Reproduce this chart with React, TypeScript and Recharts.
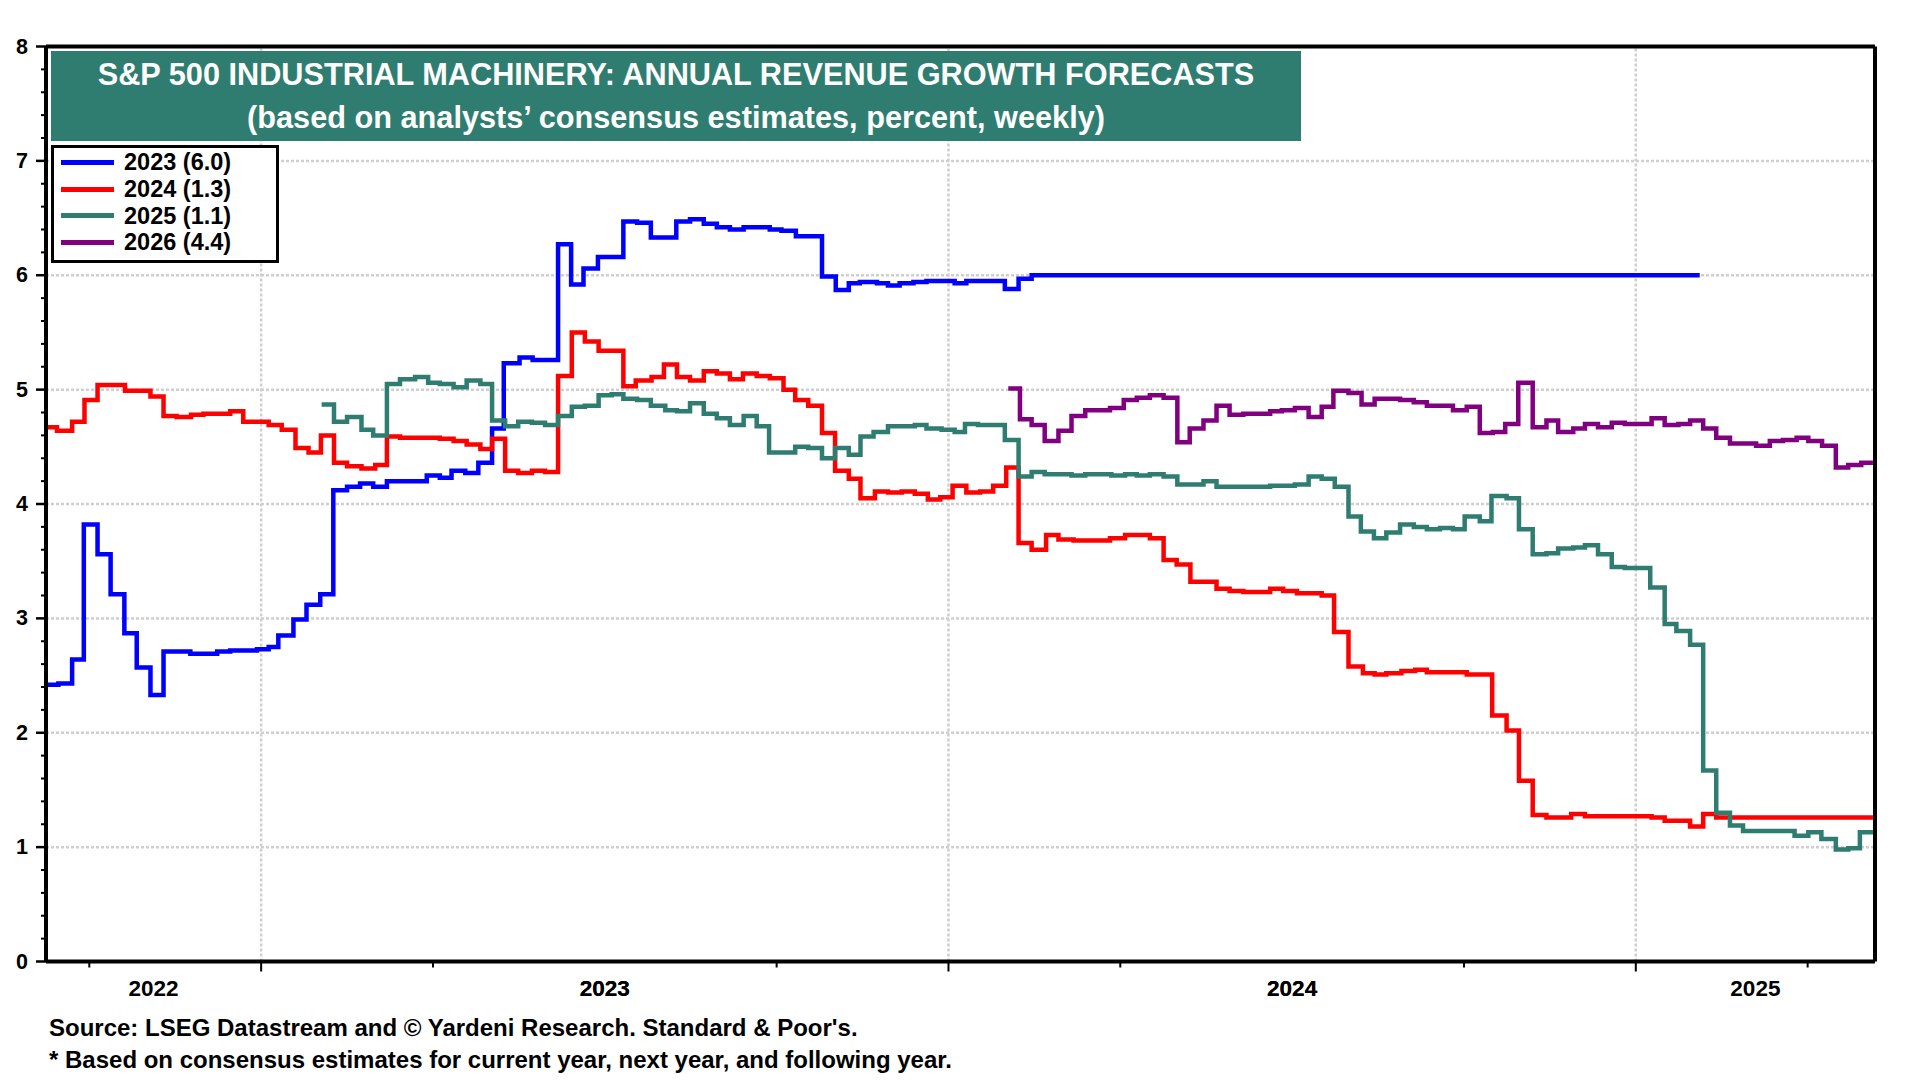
import {
  LineChart,
  Line,
  XAxis,
  YAxis,
  Legend,
  ReferenceLine,
} from "recharts";

// weekly consensus revenue growth forecasts, points where the value changes
// [decimal year, percent]
const s2023: [number, number][] = [
  [2022.687, 2.42], [2022.705, 2.43], [2022.725, 2.64], [2022.742, 3.82],
  [2022.762, 3.56], [2022.781, 3.21], [2022.801, 2.87], [2022.819, 2.57],
  [2022.839, 2.33], [2022.858, 2.71], [2022.897, 2.69], [2022.936, 2.71],
  [2022.955, 2.72], [2022.994, 2.73], [2023.011, 2.75], [2023.025, 2.85],
  [2023.047, 2.99], [2023.066, 3.12], [2023.086, 3.21], [2023.105, 4.12],
  [2023.125, 4.15], [2023.144, 4.18], [2023.163, 4.15], [2023.183, 4.2],
  [2023.241, 4.25], [2023.26, 4.23], [2023.277, 4.29], [2023.297, 4.27],
  [2023.316, 4.36], [2023.336, 4.66], [2023.353, 5.23], [2023.376, 5.28],
  [2023.395, 5.26], [2023.432, 6.27], [2023.451, 5.92], [2023.469, 6.06],
  [2023.49, 6.16], [2023.527, 6.47], [2023.547, 6.46], [2023.567, 6.33],
  [2023.604, 6.47], [2023.624, 6.49], [2023.644, 6.45], [2023.663, 6.42],
  [2023.682, 6.4], [2023.702, 6.42], [2023.74, 6.4], [2023.757, 6.39],
  [2023.778, 6.34], [2023.816, 5.99], [2023.836, 5.87], [2023.855, 5.93],
  [2023.871, 5.94], [2023.896, 5.93], [2023.912, 5.91], [2023.929, 5.93],
  [2023.949, 5.94], [2023.968, 5.95], [2024.009, 5.93], [2024.026, 5.95],
  [2024.082, 5.88], [2024.102, 5.97], [2024.121, 6.0], [2025.093, 6.0],
];

const s2024: [number, number][] = [
  [2022.687, 4.67], [2022.703, 4.64], [2022.725, 4.72], [2022.743, 4.91],
  [2022.762, 5.04], [2022.802, 4.99], [2022.839, 4.94], [2022.858, 4.77],
  [2022.877, 4.76], [2022.898, 4.78], [2022.916, 4.79], [2022.955, 4.81],
  [2022.974, 4.72], [2023.011, 4.69], [2023.03, 4.65], [2023.05, 4.49],
  [2023.069, 4.45], [2023.087, 4.6], [2023.106, 4.36], [2023.125, 4.33],
  [2023.146, 4.31], [2023.166, 4.34], [2023.183, 4.59], [2023.202, 4.58],
  [2023.26, 4.57], [2023.28, 4.55], [2023.299, 4.52], [2023.319, 4.48],
  [2023.336, 4.57], [2023.355, 4.29], [2023.374, 4.27], [2023.394, 4.29],
  [2023.413, 4.28], [2023.432, 5.12], [2023.452, 5.5], [2023.471, 5.42],
  [2023.491, 5.34], [2023.527, 5.03], [2023.545, 5.08], [2023.568, 5.11],
  [2023.586, 5.22], [2023.605, 5.11], [2023.624, 5.08], [2023.644, 5.16],
  [2023.663, 5.14], [2023.682, 5.09], [2023.701, 5.14], [2023.721, 5.12],
  [2023.74, 5.1], [2023.76, 5.0], [2023.777, 4.91], [2023.796, 4.86],
  [2023.816, 4.62], [2023.835, 4.29], [2023.855, 4.22], [2023.872, 4.05],
  [2023.893, 4.11], [2023.912, 4.1], [2023.932, 4.11], [2023.951, 4.09],
  [2023.97, 4.04], [2023.988, 4.06], [2024.006, 4.16], [2024.026, 4.1],
  [2024.046, 4.11], [2024.065, 4.16], [2024.084, 4.32], [2024.102, 3.66],
  [2024.121, 3.6], [2024.142, 3.73], [2024.16, 3.69], [2024.182, 3.68],
  [2024.235, 3.7], [2024.257, 3.73], [2024.293, 3.7], [2024.313, 3.51],
  [2024.332, 3.47], [2024.352, 3.32], [2024.39, 3.26], [2024.409, 3.24],
  [2024.429, 3.23], [2024.468, 3.26], [2024.487, 3.24], [2024.507, 3.22],
  [2024.543, 3.2], [2024.561, 2.88], [2024.582, 2.58], [2024.603, 2.52],
  [2024.62, 2.51], [2024.637, 2.52], [2024.659, 2.54], [2024.679, 2.55],
  [2024.696, 2.53], [2024.754, 2.51], [2024.791, 2.15], [2024.812, 2.02],
  [2024.83, 1.58], [2024.85, 1.28], [2024.87, 1.26], [2024.906, 1.29],
  [2024.926, 1.27], [2025.023, 1.26], [2025.042, 1.23], [2025.079, 1.18],
  [2025.098, 1.29], [2025.117, 1.26], [2025.345, 1.26],
];

const s2025: [number, number][] = [
  [2023.088, 4.87], [2023.106, 4.72], [2023.125, 4.76], [2023.146, 4.65],
  [2023.163, 4.6], [2023.183, 5.05], [2023.202, 5.09], [2023.224, 5.11],
  [2023.243, 5.06], [2023.26, 5.05], [2023.28, 5.02], [2023.299, 5.08],
  [2023.319, 5.05], [2023.336, 4.73], [2023.355, 4.68], [2023.374, 4.72],
  [2023.394, 4.71], [2023.413, 4.69], [2023.432, 4.77], [2023.452, 4.85],
  [2023.471, 4.86], [2023.491, 4.95], [2023.51, 4.96], [2023.527, 4.92],
  [2023.547, 4.91], [2023.567, 4.86], [2023.588, 4.82], [2023.605, 4.81],
  [2023.624, 4.88], [2023.644, 4.79], [2023.663, 4.75], [2023.682, 4.69],
  [2023.702, 4.77], [2023.721, 4.68], [2023.739, 4.45], [2023.777, 4.5],
  [2023.796, 4.49], [2023.816, 4.4], [2023.835, 4.49], [2023.855, 4.43],
  [2023.872, 4.59], [2023.891, 4.63], [2023.912, 4.68], [2023.951, 4.69],
  [2023.968, 4.66], [2023.99, 4.65], [2024.009, 4.63], [2024.024, 4.7],
  [2024.043, 4.69], [2024.082, 4.56], [2024.102, 4.24], [2024.121, 4.28],
  [2024.14, 4.26], [2024.179, 4.25], [2024.199, 4.26], [2024.237, 4.25],
  [2024.257, 4.26], [2024.274, 4.25], [2024.293, 4.26], [2024.313, 4.24],
  [2024.333, 4.17], [2024.371, 4.2], [2024.39, 4.15], [2024.468, 4.16],
  [2024.504, 4.17], [2024.524, 4.24], [2024.543, 4.22], [2024.562, 4.15],
  [2024.582, 3.89], [2024.6, 3.76], [2024.619, 3.7], [2024.637, 3.75],
  [2024.657, 3.82], [2024.677, 3.8], [2024.696, 3.78], [2024.715, 3.79],
  [2024.734, 3.78], [2024.751, 3.89], [2024.773, 3.85], [2024.79, 4.07],
  [2024.812, 4.05], [2024.83, 3.78], [2024.85, 3.56], [2024.87, 3.57],
  [2024.887, 3.61], [2024.909, 3.62], [2024.926, 3.64], [2024.945, 3.56],
  [2024.965, 3.45], [2024.984, 3.44], [2025.021, 3.27], [2025.042, 2.95],
  [2025.059, 2.89], [2025.079, 2.77], [2025.098, 1.67], [2025.117, 1.3],
  [2025.137, 1.19], [2025.156, 1.14], [2025.231, 1.1], [2025.251, 1.13],
  [2025.27, 1.07], [2025.291, 0.98], [2025.309, 0.99], [2025.326, 1.13],
  [2025.345, 1.13],
];

const s2026: [number, number][] = [
  [2024.087, 5.01], [2024.104, 4.74], [2024.121, 4.69], [2024.14, 4.55],
  [2024.16, 4.64], [2024.179, 4.77], [2024.199, 4.82], [2024.235, 4.84],
  [2024.255, 4.91], [2024.274, 4.93], [2024.293, 4.95], [2024.313, 4.93],
  [2024.333, 4.54], [2024.351, 4.66], [2024.371, 4.73], [2024.39, 4.86],
  [2024.409, 4.78], [2024.429, 4.79], [2024.468, 4.81], [2024.485, 4.82],
  [2024.504, 4.84], [2024.524, 4.76], [2024.543, 4.85], [2024.56, 4.99],
  [2024.582, 4.97], [2024.601, 4.87], [2024.62, 4.92], [2024.657, 4.91],
  [2024.677, 4.89], [2024.696, 4.86], [2024.734, 4.82], [2024.754, 4.85],
  [2024.773, 4.62], [2024.792, 4.63], [2024.81, 4.7], [2024.829, 5.06],
  [2024.85, 4.67], [2024.87, 4.73], [2024.887, 4.63], [2024.909, 4.66],
  [2024.926, 4.7], [2024.945, 4.67], [2024.965, 4.71], [2024.984, 4.7],
  [2025.023, 4.75], [2025.042, 4.69], [2025.062, 4.7], [2025.079, 4.73],
  [2025.098, 4.66], [2025.117, 4.58], [2025.137, 4.53], [2025.175, 4.51],
  [2025.195, 4.55], [2025.214, 4.56], [2025.234, 4.58], [2025.251, 4.55],
  [2025.271, 4.51], [2025.291, 4.32], [2025.309, 4.34], [2025.328, 4.36],
  [2025.345, 4.36],
];

const seriesNames = ["2023 (6.0)", "2024 (1.3)", "2025 (1.1)", "2026 (4.4)"];
const seriesColors = ["#0000FF", "#FF0000", "#2E7D70", "#800080"];

const xDomain: [number, number] = [2022.687, 2025.348];
const yearStarts = [2023, 2024, 2025];
const quarterTicks = [
  2022.75, 2023, 2023.25, 2023.5, 2023.75, 2024, 2024.25, 2024.5, 2024.75,
  2025, 2025.25,
];
const yearLabels = ["2022", "2023", "2024", "2025"];
const yGrid = [1, 2, 3, 4, 5, 6, 7];
const yTicks = Array.from({ length: 41 }, (_, i) => i / 5);

const FONT = '"Liberation Sans", Arial, Helvetica, sans-serif';

// year labels sit in the middle of the visible part of each year
const labelTicks = yearLabels.map((yr) => {
  const start = Math.max(Number(yr), xDomain[0]);
  const end = Math.min(Number(yr) + 1, xDomain[1]);
  return (start + end) / 2;
});

const toPoints = (s: [number, number][]) => s.map(([t, v]) => ({ t, v }));
const allSeries = [s2023, s2024, s2025, s2026];

const YTick = (props: any) => {
  const { x, y, payload, side } = props;
  const v = payload.value;
  const major = Math.abs(v - Math.round(v)) < 1e-6;
  const dir = side === "left" ? -1 : 1;
  return (
    <g>
      <line
        x1={x}
        y1={y}
        x2={x + dir * (major ? 10 : 5)}
        y2={y}
        stroke="#000"
        strokeWidth={major ? 2.5 : 2}
      />
      {major && (
        <text
          x={x + dir * 18}
          y={y}
          textAnchor={side === "left" ? "end" : "start"}
          dominantBaseline="central"
          fontFamily={FONT}
          fontWeight="bold"
          fontSize={21.5}
          fill="#000"
        >
          {Math.round(v)}
        </text>
      )}
    </g>
  );
};

const XTick = (props: any) => {
  const { x, y, payload } = props;
  const v = payload.value;
  const li = labelTicks.findIndex((t) => Math.abs(t - v) < 1e-6);
  if (li >= 0) {
    return (
      <text
        x={x}
        y={y + 34}
        textAnchor="middle"
        fontFamily={FONT}
        fontWeight="bold"
        fontSize={22.5}
        fill="#000"
      >
        {yearLabels[li]}
      </text>
    );
  }
  const isYear = Math.abs(v - Math.round(v)) < 1e-6;
  return (
    <line
      x1={x}
      y1={y}
      x2={x}
      y2={y + (isYear ? 10 : 6)}
      stroke="#000"
      strokeWidth={2}
    />
  );
};

const LegendBox = (props: any) => {
  const { payload } = props;
  return (
    <div
      style={{
        border: "3px solid #000",
        background: "#fff",
        boxSizing: "border-box",
        width: 228,
        height: 118,
        padding: "1px 0 0 7px",
        fontFamily: FONT,
        fontWeight: "bold",
        fontSize: 23.5,
      }}
    >
      {(payload || []).map((entry: any, index: number) => (
        <div
          key={`item-${index}`}
          style={{ display: "flex", alignItems: "center", height: 26.8 }}
        >
          <span
            style={{
              width: 53,
              height: 5,
              backgroundColor: entry.color,
              marginRight: 10,
            }}
          />
          <span>{entry.value}</span>
        </div>
      ))}
    </div>
  );
};

export default function App() {
  return (
    <div
      style={{
        position: "absolute",
        left: 0,
        top: 0,
        width: 1920,
        height: 1080,
        background: "#fff",
        fontFamily: FONT,
      }}
    >
      <LineChart
        width={1920}
        height={1080}
        margin={{ top: 46.5, right: 0, bottom: 78.5, left: 0 }}
      >
        <XAxis
          dataKey="t"
          type="number"
          domain={xDomain}
          allowDataOverflow
          ticks={[...quarterTicks, ...labelTicks]}
          interval={0}
          tickSize={0}
          tickMargin={0}
          height={40}
          tick={<XTick />}
          tickLine={false}
          axisLine={{ stroke: "#000", strokeWidth: 4 }}
        />
        <YAxis
          yAxisId="left"
          domain={[0, 8]}
          ticks={yTicks}
          interval={0}
          width={46}
          tickSize={0}
          tickMargin={0}
          tickLine={false}
          tick={<YTick side="left" />}
          axisLine={{ stroke: "#000", strokeWidth: 4 }}
        />
        <YAxis
          yAxisId="right"
          orientation="right"
          domain={[0, 8]}
          ticks={yTicks}
          interval={0}
          width={45}
          tickSize={0}
          tickMargin={0}
          tickLine={false}
          tick={<YTick side="right" />}
          axisLine={{ stroke: "#000", strokeWidth: 4 }}
        />
        {yGrid.map((g) => (
          <ReferenceLine
            key={`h-${g}`}
            y={g}
            yAxisId="left"
            stroke="#cfcfcf"
            strokeWidth={2.5}
            strokeDasharray="3 2"
          />
        ))}
        {yearStarts.map((yr) => (
          <ReferenceLine
            key={`v-${yr}`}
            x={yr}
            yAxisId="left"
            stroke="#cfcfcf"
            strokeWidth={2.5}
            strokeDasharray="3 2"
          />
        ))}
        <ReferenceLine y={8} yAxisId="left" stroke="#000" strokeWidth={4} />
        {allSeries.map((s, i) => (
          <Line
            key={seriesNames[i]}
            yAxisId="left"
            data={toPoints(s)}
            dataKey="v"
            name={seriesNames[i]}
            type="stepAfter"
            stroke={seriesColors[i]}
            strokeWidth={4.5}
            dot={false}
            activeDot={false}
            isAnimationActive={false}
          />
        ))}
        <Legend
          layout="horizontal"
          verticalAlign="middle"
          align="center"
          content={<LegendBox />}
          wrapperStyle={{ position: "absolute", left: 51, top: 145, width: 228, height: 118 }}
        />
      </LineChart>

      <div
        style={{
          position: "absolute",
          left: 51,
          top: 51,
          width: 1250,
          height: 90,
          background: "#2E7D70",
          color: "#fff",
          fontWeight: "bold",
          fontSize: 30.7,
          textAlign: "center",
          paddingTop: 2,
          boxSizing: "border-box",
        }}
      >
        <div style={{ lineHeight: "43px" }}>
          S&amp;P 500 INDUSTRIAL MACHINERY: ANNUAL REVENUE GROWTH FORECASTS
        </div>
        <div style={{ lineHeight: "43px" }}>
          (based on analysts’ consensus estimates, percent, weekly)
        </div>
      </div>

      <div
        style={{
          position: "absolute",
          left: 49,
          top: 1013,
          fontWeight: "bold",
          fontSize: 24,
          lineHeight: "30px",
          color: "#000",
          whiteSpace: "nowrap",
        }}
      >
        <div>Source: LSEG Datastream and © Yardeni Research. Standard &amp; Poor's.</div>
        <div style={{ marginTop: 2 }}>
          * Based on consensus estimates for current year, next year, and following year.
        </div>
      </div>
    </div>
  );
}
